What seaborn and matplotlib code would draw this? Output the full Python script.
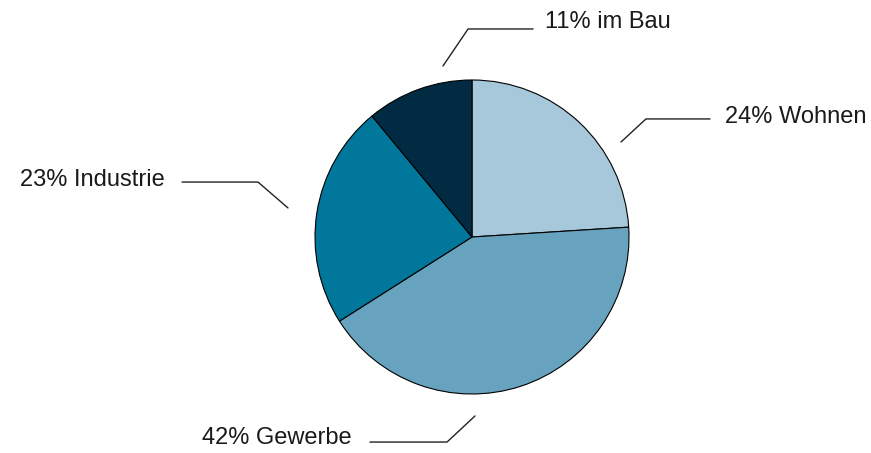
import matplotlib
matplotlib.use("Agg")
import matplotlib.pyplot as plt
import seaborn as sns

# -----------------------------
# Data
# -----------------------------
categories = ["Wohnen", "Gewerbe", "Industrie", "im Bau"]
shares = [24, 42, 23, 11]
colors = ["#a7c7da", "#67a3be", "#00779b", "#002b42"]

# label layout (pie radius = 1): start of leader, elbow, end of line, text anchor
leaders = {
    "Wohnen": [(0.949, 0.605), (1.108, 0.752), (1.516, 0.752), (1.611, 0.764, "left")],
    "Gewerbe": [(0.019, -1.140), (-0.159, -1.306), (-0.650, -1.306), (-0.764, -1.280, "right")],
    "Industrie": [(-1.172, 0.185), (-1.363, 0.350), (-1.847, 0.350), (-1.955, 0.363, "right")],
    "im Bau": [(-0.185, 1.089), (-0.025, 1.325), (0.389, 1.325), (0.465, 1.369, "left")],
}

# -----------------------------
# Plot
# -----------------------------
sns.set_theme(style="white")
plt.rcParams["font.family"] = ["Liberation Sans", "DejaVu Sans"]

fig = plt.figure(figsize=(8.71, 4.53), dpi=100)
ax = fig.add_axes([0, 0, 1, 1])

palette = sns.color_palette(colors)
ax.pie(
    shares,
    colors=palette,
    startangle=90,
    counterclock=False,
    radius=1,
    wedgeprops={"edgecolor": "black", "linewidth": 0.8},
)

for cat, share in zip(categories, shares):
    p0, p1, p2, (tx, ty, ha) = leaders[cat]
    ax.plot([p0[0], p1[0], p2[0]], [p0[1], p1[1], p2[1]], color="#222222", lw=1.0)
    ax.text(tx, ty, f"{share}% {cat}", ha=ha, va="center", fontsize=17, color="#1a1a1a")

ax.set_xlim(-472 / 157, (871 - 472) / 157)
ax.set_ylim(-(453 - 237) / 157, 237 / 157)
ax.set_aspect("equal")
ax.axis("off")

fig.savefig("out.png", dpi=100, facecolor="white")
